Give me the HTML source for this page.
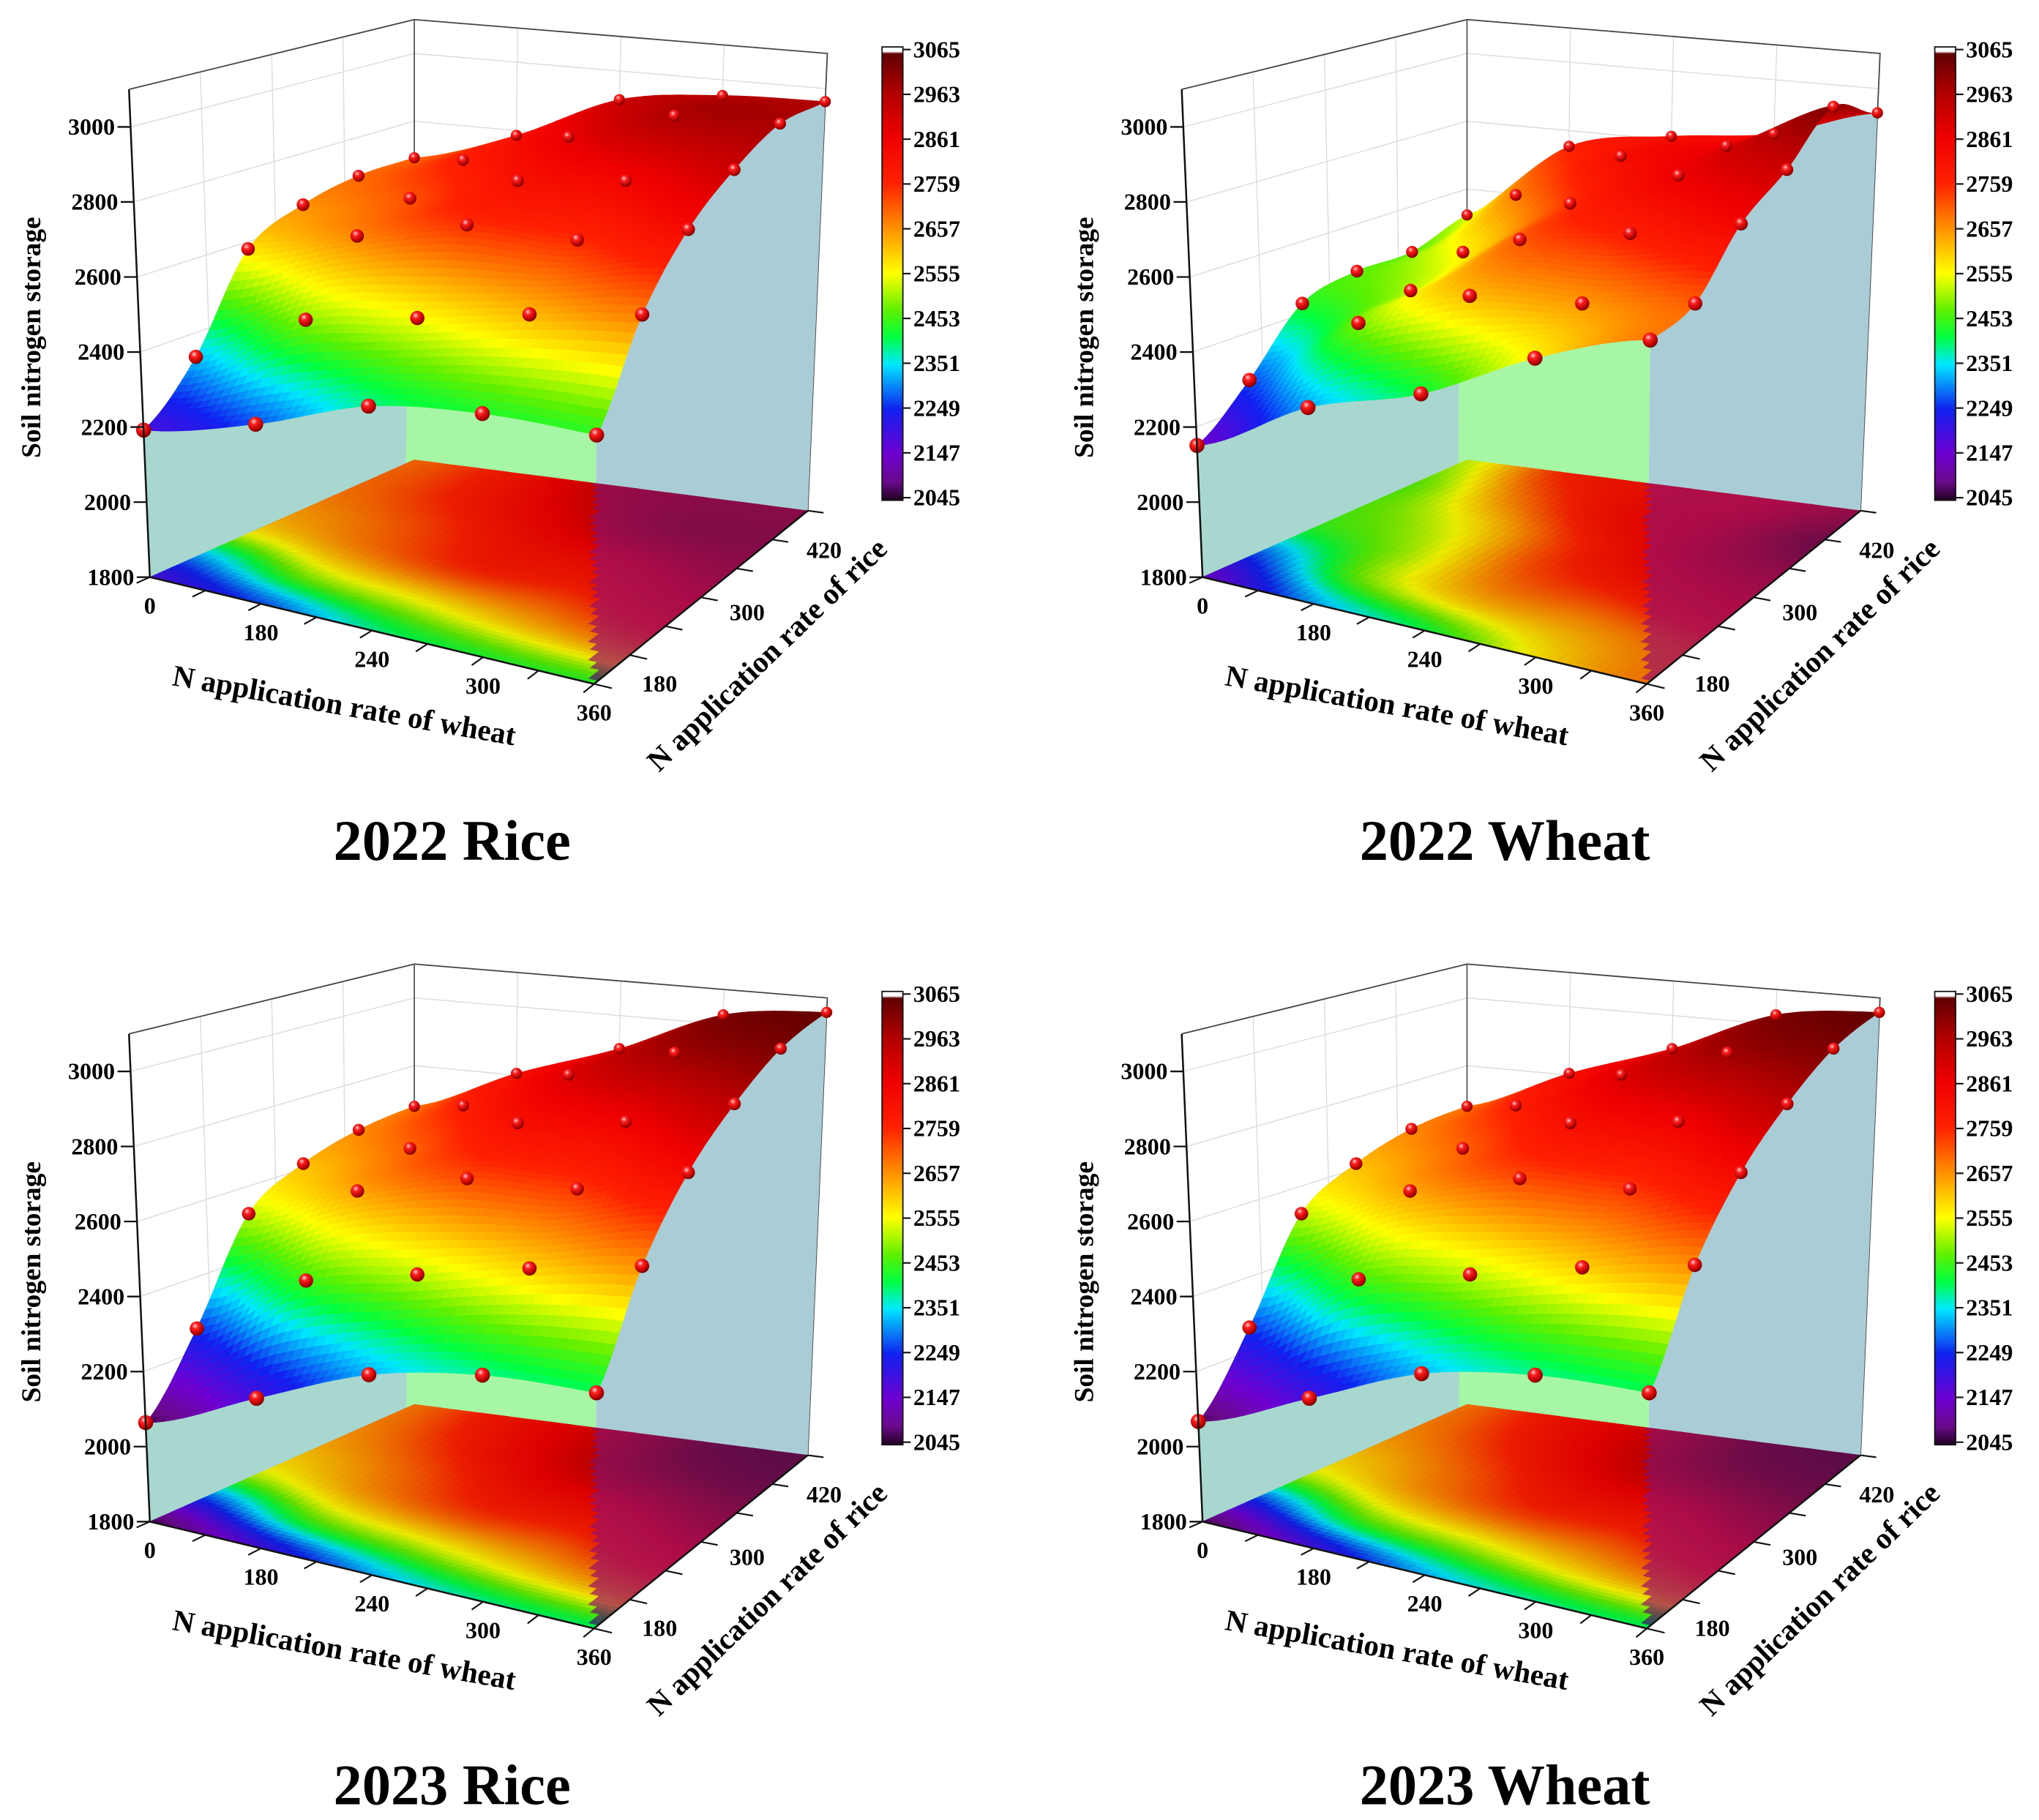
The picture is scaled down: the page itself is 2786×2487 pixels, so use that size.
<!DOCTYPE html>
<html><head><meta charset="utf-8"><title>Soil nitrogen storage surfaces</title>
<style>html,body{margin:0;padding:0;background:#fff}svg{display:block}</style></head>
<body>
<svg id="chart" xmlns="http://www.w3.org/2000/svg" width="2786" height="2487" viewBox="0 0 1565 1397">
<defs>
<radialGradient id="ball" cx="0.38" cy="0.32" r="0.7">
<stop offset="0" stop-color="#ffd0d0"/><stop offset="0.3" stop-color="#ff2020"/><stop offset="0.8" stop-color="#b00000"/><stop offset="1" stop-color="#700000"/>
</radialGradient>
<linearGradient id="cbgrad" x1="0" y1="1" x2="0" y2="0">
<stop offset="0" stop-color="#200020"/><stop offset="0.04" stop-color="#6a0a8a"/><stop offset="0.1" stop-color="#7000d0"/><stop offset="0.2" stop-color="#1020f0"/><stop offset="0.3" stop-color="#00e8ff"/><stop offset="0.36" stop-color="#00ff40"/><stop offset="0.42" stop-color="#60f000"/><stop offset="0.5" stop-color="#ffff00"/><stop offset="0.6" stop-color="#ff9000"/><stop offset="0.7" stop-color="#ff2000"/><stop offset="0.8" stop-color="#f00000"/><stop offset="0.9" stop-color="#b00000"/><stop offset="0.985" stop-color="#600000"/><stop offset="0.99" stop-color="#ffffff"/><stop offset="1" stop-color="#ffffff"/>
</linearGradient>
</defs>
</svg>
<script>
// ---- data (rows = rice levels front->back, cols = wheat levels) ----
const wheatTicks = ['0','180','240','300','360'];
const wheatTickU = [0, 0.25, 0.5, 0.75, 1];
const riceTicks = ['180','300','420'];
const riceTickV = [0.16, 0.57, 0.93];
const zTicks = [1800, 2000, 2200, 2400, 2600, 2800, 3000];
const cbTicks = [3065, 2963, 2861, 2759, 2657, 2555, 2453, 2351, 2249, 2147, 2045];
const panelTitles = ['2022 Rice', '2022 Wheat', '2023 Rice', '2023 Wheat'];
const rice2022 = [
 [2192,2274,2386,2430,2437],
 [2335,2494,2555,2620,2674],
 [2580,2666,2745,2752,2827],
 [2655,2716,2807,2847,2917],
 [2689,2770,2870,2963,2973],
 [2692,2786,2917,2955,2963]];
const wheat2022 = [
 [2151,2318,2418,2573,2680],
 [2272,2485,2614,2649,2703],
 [2429,2516,2705,2770,2842],
 [2467,2565,2744,2862,2917],
 [2469,2670,2816,2878,3020],
 [2523,2754,2811,2845,2931]];
const rice2023 = [
 [2064,2196,2323,2386,2403],
 [2261,2450,2523,2595,2656],
 [2524,2637,2720,2740,2831],
 [2614,2700,2813,2857,2945],
 [2661,2767,2889,2984,3027],
 [2680,2805,2904,3027,3059]];
const wheat2023 = [
 [2067,2196,2326,2386,2403],
 [2264,2453,2523,2598,2659],
 [2524,2637,2720,2740,2831],
 [2614,2700,2813,2857,2945],
 [2664,2767,2889,2984,3027],
 [2680,2805,2904,3027,3059]];

const NS='http://www.w3.org/2000/svg';
const svg=document.getElementById('chart');
function mk(tag,attrs,parent){const e=document.createElementNS(NS,tag);for(const k in attrs)e.setAttribute(k,attrs[k]);(parent||svg).appendChild(e);return e;}

const stops=[[0,[32,0,32]],[0.04,[106,10,138]],[0.1,[112,0,208]],[0.2,[16,32,240]],[0.3,[0,232,255]],[0.36,[0,255,64]],[0.42,[96,240,0]],[0.5,[255,255,0]],[0.6,[255,144,0]],[0.7,[255,32,0]],[0.8,[240,0,0]],[0.9,[176,0,0]],[1,[96,0,0]]];
function crgb(val){let f=(val-2045)/1020;f=Math.max(0,Math.min(1,f));let i=0;while(i<stops.length-2&&f>stops[i+1][0])i++;const a=stops[i],b=stops[i+1];const t=(f-a[0])/(b[0]-a[0]);return a[1].map((x,k)=>x+(b[1][k]-x)*t);}
function rgbs(c){return 'rgb('+c.map(x=>Math.round(Math.max(0,Math.min(255,x)))).join(',')+')';}
function cmap(val,dim){return rgbs(crgb(val).map(x=>x*(dim||1)));}

const C={p00:[115,443],p10:[456,525],p11:[620,392],p01:[318,353],s00:.288,s10:.3,s11:.27,s01:.26,t00:-16/1300,t10:0.003,t11:15/1300,t01:0};
function bil(a,b,c,d,u,v){return a*(1-u)*(1-v)+b*u*(1-v)+c*u*v+d*(1-u)*v;}
function proj(u,v,z,ox,oy){const bx=bil(C.p00[0],C.p10[0],C.p11[0],C.p01[0],u,v);const by=bil(C.p00[1],C.p10[1],C.p11[1],C.p01[1],u,v);const s=bil(C.s00,C.s10,C.s11,C.s01,u,v);const t=bil(C.t00,C.t10,C.t11,C.t01,u,v);return [bx+t*(z-1800)+ox,by-s*(z-1800)+oy];}
function cr(p0,p1,p2,p3,t){return 0.5*((2*p1)+(-p0+p2)*t+(2*p0-5*p1+4*p2-p3)*t*t+(-p0+3*p1-3*p2+p3)*t*t*t);}
function interp(g,u,v){const R=g.length,Cn=g[0].length;const gx=u*(Cn-1),gy=v*(R-1);let ix=Math.min(Math.floor(gx),Cn-2),iy=Math.min(Math.floor(gy),R-2);const tx=gx-ix,ty=gy-iy;const cl=(a,m)=>Math.max(0,Math.min(m-1,a));const rows=[];for(let j=-1;j<=2;j++){const r=g[cl(iy+j,R)];rows.push(cr(r[cl(ix-1,Cn)],r[cl(ix,Cn)],r[cl(ix+1,Cn)],r[cl(ix+2,Cn)],tx));}return cr(rows[0],rows[1],rows[2],rows[3],ty);}
function pts(a){return a.map(p=>p[0].toFixed(1)+','+p[1].toFixed(1)).join(' ');}

function drawPanel(grid,title,ox,oy){
 const g=mk('g',{});
 
 
 const P=(u,v,z)=>proj(u,v,z,ox,oy);
 const wallG=mk('g',{},g);
 
 
 for(const z of zTicks.concat([3100])){if(z===1800)continue;
  mk('polyline',{points:pts([P(0,0,z),P(0,1,z),P(1,1,z)]),fill:'none',stroke:'#dcdcdc','stroke-width':0.8},wallG);}
 for(const u of [0.25,0.5,0.75]){mk('line',{x1:P(u,1,1800)[0],y1:P(u,1,1800)[1],x2:P(u,1,3100)[0],y2:P(u,1,3100)[1],stroke:'#dcdcdc','stroke-width':0.8},wallG);}
 for(const v of [0.25,0.5,0.75]){mk('line',{x1:P(0,v,1800)[0],y1:P(0,v,1800)[1],x2:P(0,v,3100)[0],y2:P(0,v,3100)[1],stroke:'#dcdcdc','stroke-width':0.8},wallG);}
 mk('polyline',{points:pts([P(0,0,3100),P(0,1,3100),P(1,1,3100),P(1,1,1800)]),fill:'none',stroke:'#444','stroke-width':1},wallG);
 mk('line',{x1:P(0,1,1800)[0],y1:P(0,1,1800)[1],x2:P(0,1,3100)[0],y2:P(0,1,3100)[1],stroke:'#555','stroke-width':1},wallG);
 const N=48,M=60;
 const us=0.595;
 const frontA=[],frontB=[];
 for(let i=0;i<=N;i++){const u=i/N;const z=interp(grid,u,0);if(u<=us+1e-9)frontA.push(P(u,0,z));if(u>=us-1/N)frontB.push(P(u,0,z));}
 frontA.push(P(us,0,1800));frontA.push(P(0,0,1800));
 frontB.push(P(1,0,1800));frontB.push(P(us-1/N,0,1800));
 const fw=mk('polygon',{points:pts(frontA),fill:'#a7d7cf'},g);
 
 
 const fw2=mk('polygon',{points:pts(frontB),fill:'#a6f6a6'},g);
 
 
 // right wall (u=1), opaque
 const rw=[];for(let j=0;j<=M;j++){const v=j/M;rw.push(P(1,v,interp(grid,1,v)));}
 rw.push(P(1,1,1800));rw.push(P(1,0,1800));
 const rwe=mk('polygon',{points:pts(rw),fill:'#a9ccd6'},g);
 
 
 // floor projection
 const floor=mk('g',{},g);
 
 
 const edgeX=P(1,0,1800)[0];
 for(let j=M-1;j>=0;j--)for(let i=0;i<N;i++){const u0=i/N,u1=(i+1)/N,v0=j/M,v1=(j+1)/M;const val=interp(grid,(u0+u1)/2,(v0+v1)/2);
  const q=[P(u0,v0,1800),P(u1,v0,1800),P(u1,v1,1800),P(u0,v1,1800)];
  const cx=(q[0][0]+q[1][0]+q[2][0]+q[3][0])/4;
  let c=crgb(val).map(x=>x*0.92);
  if(cx>edgeX)c=[c[0]*0.62+35,c[1]*0.3+12,c[2]*0.4+72];
  const col=rgbs(c);
  mk('polygon',{points:pts(q),fill:col,stroke:col,'stroke-width':0.4},floor);}
 // surface
 const surf=mk('g',{},g);
 
 
 for(let j=M-1;j>=0;j--)for(let i=0;i<N;i++){const u0=i/N,u1=(i+1)/N,v0=j/M,v1=(j+1)/M;
  const a=P(u0,v0,interp(grid,u0,v0)),b=P(u1,v0,interp(grid,u1,v0)),c=P(u1,v1,interp(grid,u1,v1)),d=P(u0,v1,interp(grid,u0,v1));
  const col=cmap(interp(grid,(u0+u1)/2,(v0+v1)/2));
  mk('polygon',{points:pts([a,b,c,d]),fill:col,stroke:col,'stroke-width':0.4},surf);}
 for(let j=0;j<grid.length;j++)for(let i=0;i<grid[0].length;i++){const u=i/(grid[0].length-1),v=j/(grid.length-1);const p=P(u,v,grid[j][i]);
  const c=mk('circle',{cx:p[0].toFixed(1),cy:p[1].toFixed(1),r:(5.8-1.5*v).toFixed(1),fill:'url(#ball)'},g);
  
  }
 const ax=mk('g',{},g);
 
 
 mk('line',{x1:P(0,0,1800)[0],y1:P(0,0,1800)[1],x2:P(0,0,3100)[0],y2:P(0,0,3100)[1],stroke:'#111','stroke-width':1.4},ax);
 mk('line',{x1:P(0,0,1800)[0],y1:P(0,0,1800)[1],x2:P(1,0,1800)[0],y2:P(1,0,1800)[1],stroke:'#111','stroke-width':1.4},ax);
 mk('line',{x1:P(1,0,1800)[0],y1:P(1,0,1800)[1],x2:P(1,1,1800)[0],y2:P(1,1,1800)[1],stroke:'#111','stroke-width':1.4},ax);
 const ft='font-family:"Liberation Serif",serif;font-weight:bold;';
 for(const z of zTicks){const p=P(0,0,z);mk('line',{x1:p[0],y1:p[1],x2:p[0]-10,y2:p[1],stroke:'#111','stroke-width':1.3},ax);
  const t=mk('text',{x:p[0]-12,y:p[1]+6,'text-anchor':'end',style:ft+'font-size:18px'},ax);t.textContent=z;
  
  }
 for(let k=0;k<=8;k++){const u=k/8;const a=P(u,0,1800),b=P(u,-0.05,1800);mk('line',{x1:a[0],y1:a[1],x2:b[0],y2:b[1],stroke:'#111','stroke-width':1.2},ax);}
 wheatTicks.forEach((lab,k)=>{const p=P(wheatTickU[k],0,1800);const t=mk('text',{x:p[0],y:p[1]+28,'text-anchor':'middle',style:ft+'font-size:18px'},ax);t.textContent=lab;
  
  });
 for(let k=0;k<=6;k++){const v=k/6;const a=P(1,v,1800),b=P(1.04,v,1800);mk('line',{x1:a[0],y1:a[1],x2:b[0],y2:b[1],stroke:'#111','stroke-width':1.2},ax);}
 riceTicks.forEach((lab,k)=>{const p=P(1,riceTickV[k],1800);const t=mk('text',{x:p[0]+24,y:p[1]+27,'text-anchor':'middle',style:ft+'font-size:18px'},ax);t.textContent=lab;
  
  });
 const yt=mk('text',{x:0,y:0,transform:'translate('+(ox+31)+','+(oy+259)+') rotate(-90)','text-anchor':'middle',style:ft+'font-size:21px'},g);yt.textContent='Soil nitrogen storage';
 
 
 const xt=mk('text',{x:0,y:0,transform:'translate('+(ox+263)+','+(oy+549)+') rotate(10)','text-anchor':'middle',style:ft+'font-size:23px'},g);xt.textContent='N application rate of wheat';
 
 
 const rt=mk('text',{x:0,y:0,transform:'translate('+(ox+594)+','+(oy+508)+') rotate(-44)','text-anchor':'middle',style:ft+'font-size:23px'},g);rt.textContent='N application rate of rice';
 
 
 const cb=mk('g',{},g);
 
 
 mk('rect',{x:ox+677,y:oy+36,width:16,height:348,fill:'url(#cbgrad)',stroke:'#111','stroke-width':1},cb);
 cbTicks.forEach(val=>{const y=oy+38+(3065-val)/1020*344;mk('line',{x1:ox+693,y1:y,x2:ox+699,y2:y,stroke:'#111','stroke-width':1.2},cb);
  const t=mk('text',{x:ox+701,y:y+6,style:ft+'font-size:18px'},cb);t.textContent=val;
  
  });
 const tt=mk('text',{x:ox+347,y:oy+660,'text-anchor':'middle',style:ft+'font-size:44px'},g);tt.textContent=title;
 
 
}
drawPanel(rice2022,panelTitles[0],0,0);
drawPanel(wheat2022,panelTitles[1],808,0);
drawPanel(rice2023,panelTitles[2],0,725);
drawPanel(wheat2023,panelTitles[3],808,725);
</script>
</body></html>
